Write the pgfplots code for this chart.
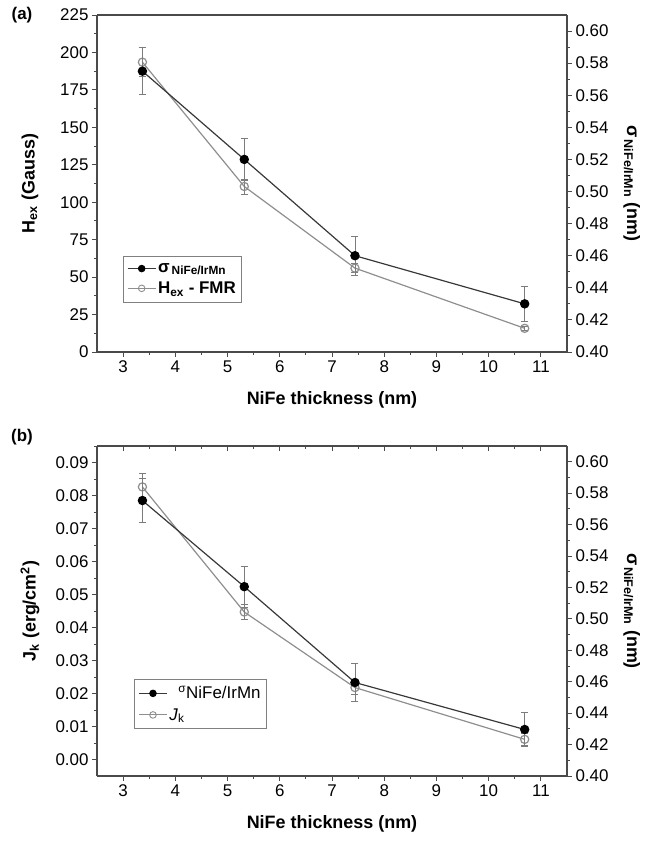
\documentclass[border=0pt]{standalone}
\usepackage{fontspec}
\setmainfont{Liberation Sans}
\usepackage{pgfplots}
\pgfplotsset{compat=1.18}

\definecolor{axisgray}{HTML}{4A4A4A}
\definecolor{sigline}{HTML}{383838}
\definecolor{hexline}{HTML}{8E8E8E}
\definecolor{errgray}{HTML}{7C7C7C}

% shared look of every axis
\pgfplotsset{
  base/.style={
    scale only axis, width=470bp, xmin=2.5, xmax=11.5,
    axis line style={axisgray, line width=1.1pt},
    every tick/.style={axisgray, line width=0.9pt},
    major tick length=5bp, minor tick length=3bp,
    tick label style={font=\fontsize{17}{17}\selectfont},
    /pgf/number format/assume math mode=true,
    label style={font=\bfseries\fontsize{18}{20}\selectfont},
    clip=false,
  },
  twodec/.style={scaled y ticks=false, yticklabel style={/pgf/number format/fixed,
    /pgf/number format/fixed zerofill, /pgf/number format/precision=2}},
  leftax/.style={
    base, axis x line*=bottom, axis y line*=left, tick align=outside,
    xtick={3,...,11}, minor x tick num=1, minor y tick num=1,
  },
  rightax/.style={
    base, axis x line*=top, axis y line*=right, tick align=outside,
    xtick=\empty, minor y tick num=1,
    ytick={0.40,0.42,...,0.605}, ymin=0.40, ymax=0.61, twodec,
    ylabel style={rotate=180},
  },
  sig/.style={sigline, line width=1.2pt, mark=*, mark size=4.1bp,
    mark options={solid, fill=black, draw=black},
    error bars/.cd, y dir=both, y explicit,
    error bar style={errgray, line width=0.9pt},
    error mark options={rotate=90, mark size=3.5bp, errgray, line width=0.9pt}},
  hexs/.style={hexline, line width=1.2pt, mark=o, mark size=4.1bp,
    mark options={solid, fill=white, draw=hexline},
    error bars/.cd, y dir=both, y explicit,
    error bar style={errgray, line width=0.9pt},
    error mark options={rotate=90, mark size=3.5bp, errgray, line width=0.9pt}},
  legbox/.style={legend style={draw=gray, line width=0.8pt, fill=white,
    inner xsep=4bp, inner ysep=5bp, row sep=4bp},
    legend cell align=left,
    legend image code/.code={\draw[line width=0.9pt, mark repeat=2, mark phase=2,
      mark size=3.3bp]
      plot coordinates {(0bp,0bp) (14bp,0bp) (28bp,0bp)};}},
}

\begin{document}
\begin{tikzpicture}
\useasboundingbox (0,0) rectangle (648bp,846bp);

\node[font=\bfseries\fontsize{17}{17}\selectfont] at (22bp,831bp) {(a)};
\node[font=\bfseries\fontsize{17}{17}\selectfont] at (22bp,409bp) {(b)};

% ---------------- panel (a) ----------------
\begin{axis}[leftax, at={(97bp,494bp)}, anchor=south west, height=337bp,
    ymin=0, ymax=225, ytick={0,25,...,225},
    xlabel={NiFe thickness (nm)}, ylabel={H\textsubscript{ex} (Gauss)},
    xlabel style={at={(axis description cs:0.5,-0.142)}, anchor=center},
    ylabel style={at={(axis description cs:-0.1426,0.5)}, anchor=center}]
\addplot[hexs] coordinates {
  (3.37,193.5) +- (0,9.5)
  (5.32,110.5) +- (0,5.0)
  (7.44,56.0)  +- (0,3.0)
  (10.69,15.8) +- (0,1.5)
};
\end{axis}

\begin{axis}[rightax, at={(97bp,494bp)}, anchor=south west, height=337bp,
    ylabel={σ\textsubscript{\,NiFe/IrMn} (nm)},
    ylabel style={at={(axis description cs:1.138,0.5)}, anchor=center},
    legbox,
    legend style={at={(0.055,0.285)}, anchor=north west,
      font=\bfseries\fontsize{17}{19}\selectfont}]
\addplot[sig] coordinates {
  (3.37,0.575)  +- (0,0.0145)
  (5.32,0.520)  +- (0,0.013)
  (7.44,0.460)  +- (0,0.012)
  (10.69,0.430) +- (0,0.011)
};
\addlegendentry{σ\textsubscript{\,NiFe/IrMn}}
\addlegendimage{hexline, line width=1.2pt, mark=o, mark size=4.1bp,
    mark options={solid, fill=white, draw=hexline}}
\addlegendentry{H\textsubscript{ex} - FMR}
\end{axis}

% ---------------- panel (b) ----------------
\begin{axis}[leftax, at={(97bp,70bp)}, anchor=south west, height=330bp,
    ymin=-0.005, ymax=0.095, ytick={0,0.01,...,0.095}, twodec,
    xlabel={NiFe thickness (nm)}, ylabel={J\textsubscript{k} (erg/cm\textsuperscript{2})},
    xlabel style={at={(axis description cs:0.5,-0.1455)}, anchor=center},
    ylabel style={at={(axis description cs:-0.1426,0.5)}, anchor=center}]
\addplot[hexs] coordinates {
  (3.37,0.0826)  +- (0,0.0040)
  (5.32,0.0447)  +- (0,0.0022)
  (7.44,0.0218)  +- (0,0.0020)
  (10.69,0.0061) +- (0,0.0018)
};
\end{axis}

% top ticks pointing inward
\begin{axis}[base, at={(97bp,70bp)}, anchor=south west, height=330bp,
    axis x line*=top, axis y line=none, tick align=inside,
    xtick={3,...,11}, minor x tick num=1, xticklabels={},
    ymin=0, ymax=1]
\end{axis}

\begin{axis}[rightax, at={(97bp,70bp)}, anchor=south west, height=330bp,
    ylabel={σ\textsubscript{\,NiFe/IrMn} (nm)},
    ylabel style={at={(axis description cs:1.138,0.5)}, anchor=center},
    legbox,
    legend style={at={(0.079,0.294)}, anchor=north west,
      font=\fontsize{17}{19}\selectfont}]
\addplot[sig] coordinates {
  (3.37,0.5753)  +- (0,0.014)
  (5.32,0.5205)  +- (0,0.013)
  (7.44,0.4595)  +- (0,0.012)
  (10.69,0.4296) +- (0,0.011)
};
\addlegendentry{\hspace{9bp}\textsuperscript{σ}NiFe/IrMn}
\addlegendimage{hexline, line width=1.2pt, mark=o, mark size=4.1bp,
    mark options={solid, fill=white, draw=hexline}}
\addlegendentry{\textit{J}\textsubscript{k}}
\end{axis}
\end{tikzpicture}
\end{document}
